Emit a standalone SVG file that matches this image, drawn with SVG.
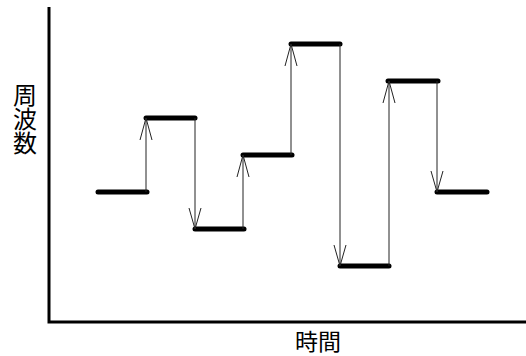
<svg xmlns="http://www.w3.org/2000/svg" width="526" height="356" viewBox="0 0 526 356">
<style>
.axis{stroke:#000;stroke-width:3;fill:none}
.lvl{stroke:#000;stroke-width:5;stroke-linecap:round}
.tr{stroke:#222;stroke-width:1;fill:none}
.lbl{font-family:"Noto Sans CJK JP","Noto Sans CJK SC",sans-serif;font-size:23px;fill:#000}
</style>
<rect width="526" height="356" fill="#fff"/>
<g id="axes">
<path class="axis" d="M49,7 V322 H526"/>
</g>
<g id="levels">
<g id="l1"><line class="lvl" x1="98" y1="192" x2="147" y2="192"/></g>
<g id="l2"><line class="lvl" x1="146" y1="118" x2="195" y2="118"/></g>
<g id="l3"><line class="lvl" x1="195" y1="229" x2="244" y2="229"/></g>
<g id="l4"><line class="lvl" x1="243" y1="155" x2="292" y2="155"/></g>
<g id="l5"><line class="lvl" x1="291" y1="44" x2="340" y2="44"/></g>
<g id="l6"><line class="lvl" x1="340" y1="266" x2="389" y2="266"/></g>
<g id="l7"><line class="lvl" x1="388" y1="81" x2="438" y2="81"/></g>
<g id="l8"><line class="lvl" x1="437" y1="192" x2="487" y2="192"/></g>
</g>
<g id="connectors">
<path class="tr" d="M146,192 V118 M140,140 L146,118 L152,140"/>
<path class="tr" d="M195,118 V229 M189,208 L195,229 L201,208"/>
<path class="tr" d="M243,229 V155 M237,177 L243,155 L249,177"/>
<path class="tr" d="M291,155 V44 M285,66 L291,44 L297,66"/>
<path class="tr" d="M340,44 V266 M334,245 L340,266 L346,245"/>
<path class="tr" d="M389,266 V81 M383,103 L389,81 L395,103"/>
<path class="tr" d="M437,81 V192 M431,171 L437,192 L443,171"/>
</g>
<g id="ylabel">
<text class="lbl" x="25" y="83" writing-mode="vertical-rl" style="font-size:24px">周波数</text>
</g>
<g id="xlabel">
<text class="lbl" x="318" y="350" text-anchor="middle">時間</text>
</g>
</svg>
